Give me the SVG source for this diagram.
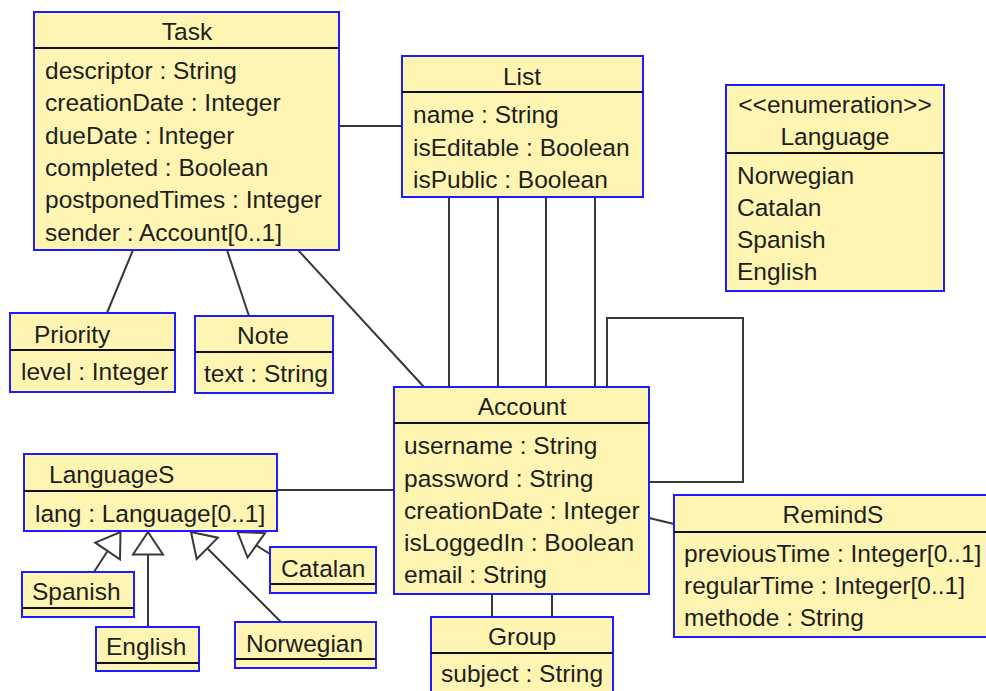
<svg xmlns="http://www.w3.org/2000/svg" width="986" height="691" viewBox="0 0 986 691">
<style>
.box{fill:#FFF5B2;stroke:#1c1cff;stroke-width:2}
.div{stroke:#111;stroke-width:2}
.t{font-family:"Liberation Sans",Arial,sans-serif;font-size:24.5px;fill:#1e1e1e}
.m{text-anchor:middle}
.conn{stroke:#383838;stroke-width:2;fill:none}
.gen{fill:#fff;stroke:#383838;stroke-width:2}
</style>
<rect width="986" height="691" fill="#fff"/>
<g id="connectors">
<line class="conn" x1="339" y1="126" x2="402" y2="126"/>
<line class="conn" x1="133" y1="250" x2="107" y2="313"/>
<line class="conn" x1="227" y1="250" x2="249" y2="316"/>
<line class="conn" x1="298" y1="250" x2="424" y2="387"/>
<line class="conn" x1="449" y1="197" x2="449" y2="387"/>
<line class="conn" x1="498" y1="197" x2="498" y2="387"/>
<line class="conn" x1="546" y1="197" x2="546" y2="387"/>
<line class="conn" x1="595" y1="197" x2="595" y2="387"/>
<polyline class="conn" points="607,387 607,318 743,318 743,482 649,482"/>
<line class="conn" x1="277" y1="490" x2="394" y2="490"/>
<line class="conn" x1="649" y1="518" x2="674" y2="524"/>
<line class="conn" x1="492" y1="594" x2="492" y2="617"/>
<line class="conn" x1="552" y1="594" x2="552" y2="617"/>
<line class="conn" x1="107.6" y1="551" x2="94" y2="572"/>
<polygon class="gen" points="120.5,532 120,559.4 95.2,542.6"/>
<line class="conn" x1="148" y1="554.5" x2="148" y2="627"/>
<polygon class="gen" points="148,532 163,554.5 133,554.5"/>
<line class="conn" x1="207.3" y1="548.3" x2="281" y2="622"/>
<polygon class="gen" points="191,532 196.7,558.9 217.9,537.7"/>
<line class="conn" x1="256.3" y1="545.3" x2="270" y2="554"/>
<polygon class="gen" points="237.5,532 247.6,557.5 265,533.1"/>
</g>
<g id="Task">
<rect class="box" x="34" y="12" width="305" height="238"/>
<line class="div" x1="34" y1="48" x2="339" y2="48"/>
<text class="t m" x="187" y="40">Task</text>
<text class="t" x="45" y="79">descriptor : String</text>
<text class="t" x="45" y="111">creationDate : Integer</text>
<text class="t" x="45" y="143.5">dueDate : Integer</text>
<text class="t" x="45" y="176">completed : Boolean</text>
<text class="t" x="45" y="208">postponedTimes : Integer</text>
<text class="t" x="45" y="240.5">sender : Account[0..1]</text>
</g>
<g id="List">
<rect class="box" x="402" y="56" width="241" height="141"/>
<line class="div" x1="402" y1="92" x2="643" y2="92"/>
<text class="t m" x="522" y="85">List</text>
<text class="t" x="413" y="123">name : String</text>
<text class="t" x="413" y="156">isEditable : Boolean</text>
<text class="t" x="413" y="188">isPublic : Boolean</text>
</g>
<g id="Language">
<rect class="box" x="726" y="85" width="218" height="206"/>
<line class="div" x1="726" y1="153" x2="944" y2="153"/>
<text class="t m" x="835" y="113">&lt;&lt;enumeration&gt;&gt;</text>
<text class="t m" x="835" y="145">Language</text>
<text class="t" x="737" y="184">Norwegian</text>
<text class="t" x="737" y="216">Catalan</text>
<text class="t" x="737" y="248">Spanish</text>
<text class="t" x="737" y="280">English</text>
</g>
<g id="Priority">
<rect class="box" x="10" y="313" width="165" height="79"/>
<line class="div" x1="10" y1="350" x2="175" y2="350"/>
<text class="t" x="34" y="343">Priority</text>
<text class="t" x="21" y="380">level : Integer</text>
</g>
<g id="Note">
<rect class="box" x="195" y="316" width="138" height="77"/>
<line class="div" x1="195" y1="352" x2="333" y2="352"/>
<text class="t m" x="263" y="344">Note</text>
<text class="t" x="204" y="382">text : String</text>
</g>
<g id="Account">
<rect class="box" x="394" y="387" width="255" height="207"/>
<line class="div" x1="394" y1="423" x2="649" y2="423"/>
<text class="t m" x="522" y="415">Account</text>
<text class="t" x="404" y="454">username : String</text>
<text class="t" x="404" y="487">password : String</text>
<text class="t" x="404" y="518.5">creationDate : Integer</text>
<text class="t" x="404" y="551">isLoggedIn : Boolean</text>
<text class="t" x="404" y="583">email : String</text>
</g>
<g id="LanguageS">
<rect class="box" x="24" y="454" width="253" height="77"/>
<line class="div" x1="24" y1="491" x2="277" y2="491"/>
<text class="t" x="49" y="483">LanguageS</text>
<text class="t" x="35" y="522">lang : Language[0..1]</text>
</g>
<g id="Spanish">
<rect class="box" x="22" y="572" width="112" height="45"/>
<line class="div" x1="22" y1="608" x2="134" y2="608"/>
<text class="t" x="32" y="600">Spanish</text>
</g>
<g id="English">
<rect class="box" x="96" y="627" width="103" height="44"/>
<line class="div" x1="96" y1="663" x2="199" y2="663"/>
<text class="t" x="106" y="655">English</text>
</g>
<g id="Norwegian">
<rect class="box" x="235" y="622" width="141" height="46"/>
<line class="div" x1="235" y1="659" x2="376" y2="659"/>
<text class="t" x="246" y="652">Norwegian</text>
</g>
<g id="Catalan">
<rect class="box" x="270" y="547" width="106" height="46"/>
<line class="div" x1="270" y1="584" x2="376" y2="584"/>
<text class="t" x="281" y="577">Catalan</text>
</g>
<g id="Group">
<rect class="box" x="431" y="617" width="182" height="90"/>
<line class="div" x1="431" y1="653" x2="613" y2="653"/>
<text class="t m" x="522" y="645">Group</text>
<text class="t" x="441" y="682">subject : String</text>
</g>
<g id="RemindS">
<rect class="box" x="674" y="495" width="318" height="142"/>
<line class="div" x1="674" y1="532" x2="992" y2="532"/>
<text class="t m" x="833" y="523">RemindS</text>
<text class="t" x="684" y="562">previousTime : Integer[0..1]</text>
<text class="t" x="684" y="594">regularTime : Integer[0..1]</text>
<text class="t" x="684" y="626">methode : String</text>
</g>
</svg>
